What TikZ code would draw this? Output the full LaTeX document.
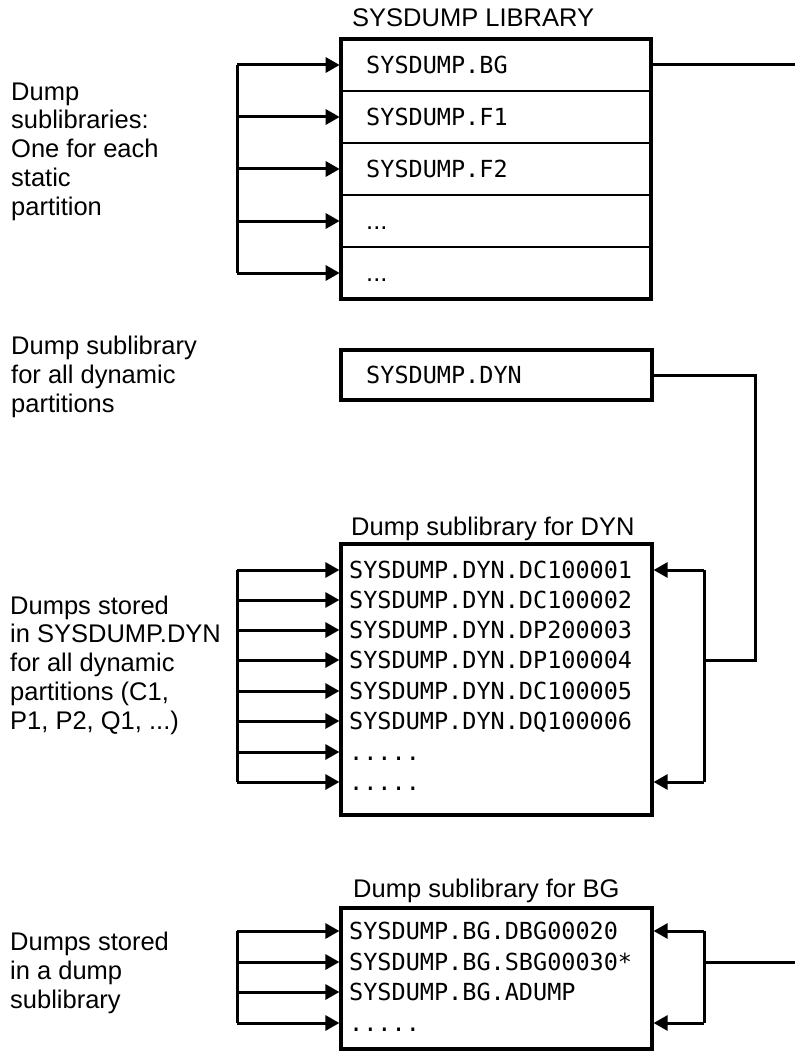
\documentclass[tikz,border=0pt]{standalone}
\usepackage{fontspec}
\setmainfont{Liberation Sans}
\setmonofont{DejaVu Sans Mono}
\usetikzlibrary{arrows.meta}
\begin{document}
\begin{tikzpicture}[x=1pt,y=-1pt,
  sans/.style={font=\fontsize{25.5}{28.7}\selectfont, inner sep=0pt, anchor=base west, align=left},
  mono/.style={font=\ttfamily\fontsize{23.5}{30}\selectfont, inner sep=0pt, anchor=base west},
  rowbox/.style={draw, line width=2.6pt, minimum width=310pt, minimum height=52pt, inner sep=0pt},
  frame/.style={draw, line width=3.2pt, inner sep=0pt},
  conn/.style={line width=3pt},
  arr/.style={conn, -{Triangle[length=14pt,width=15pt]}}]
\useasboundingbox (0,0) rectangle (795,1051);

% ---------- SYSDUMP library ----------
\node[sans] (libtitle) at (352,27) {SYSDUMP LIBRARY};
\foreach \i/\y in {1/65,2/117,3/169,4/221,5/273}
  \node[rowbox] (r\i) at (496,\y) {};
\node[frame, minimum width=310pt, minimum height=260pt] (lib) at (496,169) {};
\node[mono] (t1) at (366,73.6) {SYSDUMP.BG};
\node[mono] (t2) at (366,125.6) {SYSDUMP.F1};
\node[mono] (t3) at (366,177.6) {SYSDUMP.F2};
\node[sans] (t4) at (366,229.6) {...};
\node[sans] (t5) at (366,281.6) {...};

\coordinate (busA) at (237,65);
\draw[conn] (busA) -- (237,273);
\foreach \i in {1,...,5}
  \draw[arr] (busA |- r\i.west) -- (r\i.west);
\coordinate (edgeA) at (795,65);
\draw[conn] (r1.east) -- (edgeA);

% multi-line labels are placed by the baseline of their last line
\node[sans] (lab1) at (11,215) {Dump\\sublibraries:\\One for each\\static\\partition};

% ---------- SYSDUMP.DYN ----------
\node[frame, minimum width=311pt, minimum height=50pt] (dynlib) at (496.5,375) {};
\node[mono] (dyntext) at (366,383.6) {SYSDUMP.DYN};
\node[sans] (lab2) at (11,412) {Dump sublibrary\\for all dynamic\\partitions};

% ---------- Dump sublibrary for DYN ----------
\node[sans] (dyntitle) at (351,535) {Dump sublibrary for DYN};
\node[frame, minimum width=311pt, minimum height=271pt] (dyn) at (496.5,679.5) {};
\foreach \i/\y/\s in {1/570/SYSDUMP.DYN.DC100001,2/600/SYSDUMP.DYN.DC100002,
                      3/630/SYSDUMP.DYN.DP200003,4/660/SYSDUMP.DYN.DP100004,
                      5/691/SYSDUMP.DYN.DC100005,6/721/SYSDUMP.DYN.DQ100006,
                      7/752/{.....},8/782/{.....}}
  \node[mono] (d\i) at (349,\y+8.6) {\s};
\coordinate (busB) at (237,570);
\draw[conn] (busB) -- (237,782);
\foreach \i/\y in {1/570,2/600,3/630,4/660,5/691,6/721,7/752,8/782}
  \draw[arr] (237,\y) -- (dyn.west |- 0,\y);

\coordinate (dynbus) at (704,660);
\coordinate (dynturn) at (755,660);
\draw[conn] (dynlib.east) -| (dynturn) -- (dynbus);
\draw[conn] (704,570) -- (704,782);
\draw[arr] (704,570) -- (dyn.east |- 0,570);
\draw[arr] (704,782) -- (dyn.east |- 0,782);

\node[sans] (lab3) at (10,729) {Dumps stored\\in SYSDUMP.DYN\\for all dynamic\\partitions (C1,\\P1, P2, Q1, ...)};

% ---------- Dump sublibrary for BG ----------
\node[sans] (bgtitle) at (353,897) {Dump sublibrary for BG};
\node[frame, minimum width=311pt, minimum height=141pt] (bg) at (496.5,978.5) {};
\foreach \i/\y/\s in {1/931/SYSDUMP.BG.DBG00020,2/962/SYSDUMP.BG.SBG00030*,
                      3/992/SYSDUMP.BG.ADUMP,4/1023/{.....}}
  \node[mono] (b\i) at (349,\y+8.6) {\s};
\coordinate (busC) at (237,931);
\draw[conn] (busC) -- (237,1023);
\foreach \y in {931,962,992,1023}
  \draw[arr] (237,\y) -- (bg.west |- 0,\y);

\coordinate (bgbus) at (704,962);
\coordinate (edgeB) at (795,962);
\draw[conn] (704,931) -- (704,1023);
\draw[arr] (704,931) -- (bg.east |- 0,931);
\draw[arr] (704,1023) -- (bg.east |- 0,1023);
\draw[conn] (bgbus) -- (edgeB);

\node[sans] (lab4) at (10,1008) {Dumps stored\\in a dump\\sublibrary};
\end{tikzpicture}
\end{document}
